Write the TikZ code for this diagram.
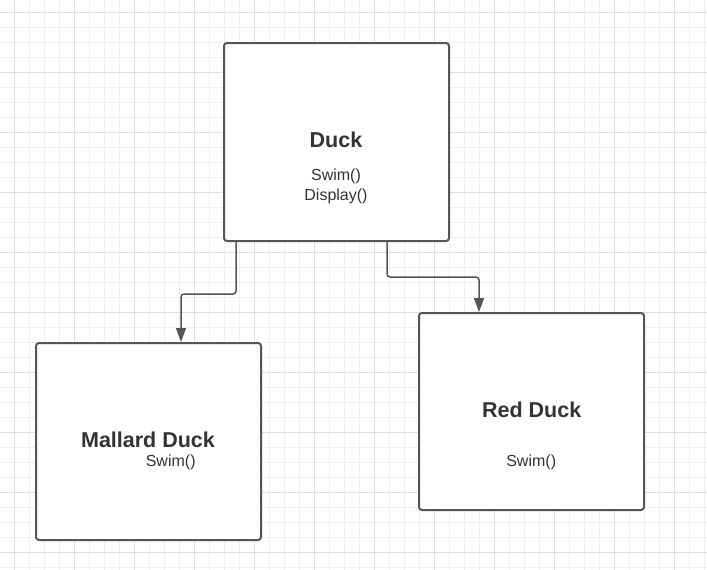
\documentclass[tikz,border=0pt]{standalone}
\usepackage{fontspec}
\setmainfont{Liberation Sans}
\usetikzlibrary{arrows.meta}
\definecolor{gridminor}{HTML}{EEEEEE}
\definecolor{gridmajor}{HTML}{DEDEDE}
\definecolor{edge}{HTML}{555555}
\definecolor{txt}{HTML}{333333}
\tikzset{
  x=1pt, y=-1pt,
  classbox/.style={draw=edge, line width=2pt, fill=white, rounded corners=3pt,
    minimum width=225pt, minimum height=197pt, inner sep=0pt},
  title/.style={font=\fontsize{21.5pt}{24pt}\selectfont\bfseries, text=txt, anchor=base, inner sep=0pt},
  method/.style={font=\fontsize{16pt}{19pt}\selectfont, text=txt, anchor=base, inner sep=0pt},
  conn/.style={draw=edge, line width=1.5pt, rounded corners=3pt,
    -{Triangle[width=10pt,length=14pt]}},
}
\begin{document}
\begin{tikzpicture}
\useasboundingbox (0,0) rectangle (707,570);
\fill[white] (0,0) rectangle (707,570);
% grid
\foreach \i in {0,...,47} {
  \pgfmathsetmacro{\gx}{-1+15*\i}
  \draw[gridminor, line width=1pt] (\gx,0) -- (\gx,570);
}
\foreach \i in {0,...,38} {
  \pgfmathsetmacro{\gy}{-3+15*\i}
  \draw[gridminor, line width=1pt] (0,\gy) -- (707,\gy);
}
\foreach \i in {0,...,11} {
  \pgfmathsetmacro{\gx}{14+60*\i}
  \draw[gridmajor, line width=1pt] (\gx,0) -- (\gx,570);
}
\foreach \i in {0,...,9} {
  \pgfmathsetmacro{\gy}{12+60*\i}
  \draw[gridmajor, line width=1pt] (0,\gy) -- (707,\gy);
}
% boxes
\node[classbox, minimum height=198pt] (duck) at (336.5,142) {};
\node[classbox] (mallard) at (148.5,441.5) {};
\node[classbox] (red) at (531.5,411.5) {};
% texts
\node[title] (ducktitle) at (336,147.3) {Duck};
\node[method] (duckswim) at (336,180) {Swim()};
\node[method] (duckdisplay) at (336,200.5) {Display()};
\node[title] (mallardtitle) at (148,447.3) {Mallard Duck};
\node[method] (mallardswim) at (170.7,466.7) {Swim()};
\node[title] (redtitle) at (531.7,417.3) {Red Duck};
\node[method] (redswim) at (531.2,466.7) {Swim()};
% connectors
\coordinate (l1) at ([xshift=13pt]duck.south west);
\coordinate (l2) at ([xshift=146pt]mallard.north west);
\draw[conn] (l1) -- (l1 |- 0,294) -- (l2 |- 0,294) -- (l2);
\coordinate (r1) at ([xshift=164pt]duck.south west);
\coordinate (r2) at ([xshift=61pt]red.north west);
\draw[conn] (r1) -- (r1 |- 0,277) -- (r2 |- 0,277) -- (r2);
\end{tikzpicture}
\end{document}
